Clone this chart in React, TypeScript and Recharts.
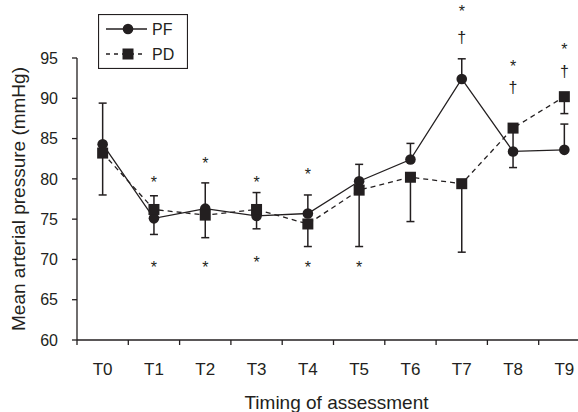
import React from "react";
import { ComposedChart, Line, XAxis, YAxis, ErrorBar, ReferenceDot } from "recharts";

const INK = "#231f20";
const FONT = '"Liberation Sans", Arial, Helvetica, sans-serif';

const timings = ["T0", "T1", "T2", "T3", "T4", "T5", "T6", "T7", "T8", "T9"];
const pfMean = [84.3, 75.1, 76.3, 75.4, 75.7, 79.7, 82.4, 92.4, 83.4, 83.6];
const pdMean = [83.2, 76.2, 75.5, 76.2, 74.4, 78.6, 80.2, 79.4, 86.3, 90.2];
// [below, above] error lengths (mmHg)
const pfErr = [[0, 5.1], [2.0, 0], [0, 3.2], [1.6, 0], [0, 2.3], [0, 2.1], [0, 2.0], [0, 2.5], [0, 0], [0, 3.2]];
const pdErr = [[5.2, 0], [0, 1.7], [2.8, 0], [0, 2.1], [2.8, 0], [7.0, 0], [5.5, 0], [8.5, 0], [4.9, 0], [2.1, 0]];
// significance marks, value = where the glyph sits
const starAbove = [null, 80.0, 82.3, 80.0, 81.0, null, null, 101.2, 94.4, 96.5];
const starBelow = [null, 69.4, 69.4, 70.0, 69.4, 69.4, null, null, null, null];
const daggers = [null, null, null, null, null, null, null, 97.3, 91.1, 93.1];
const yTicks = [60, 65, 70, 75, 80, 85, 90, 95];

const rows = timings.map((t, i) => ({
  t,
  pf: pfMean[i],
  pd: pdMean[i],
  pfErr: pfErr[i],
  pdErr: pdErr[i],
}));

const PLOT_LEFT = 77;
const PLOT_RIGHT = 590;
const HALF_BAND = (PLOT_RIGHT - PLOT_LEFT) / timings.length / 2;

const circleDot = (p: any) => (
  <circle key={`c${p.index}`} cx={p.cx} cy={p.cy} r={5.3} fill={INK} />
);
const squareDot = (p: any) => (
  <rect key={`s${p.index}`} x={p.cx - 5.5} y={p.cy - 5.5} width={11} height={11} fill={INK} />
);

function TimingTick({ x, y, payload }: any) {
  return (
    <g>
      <line x1={x - HALF_BAND} x2={x - HALF_BAND} y1={y - 5} y2={y} stroke={INK} strokeWidth={1.3} />
      <text x={x} y={y + 30} textAnchor="middle" fontSize={17} fill={INK} fontFamily={FONT}>
        {payload.value}
      </text>
    </g>
  );
}

const xTitle = ({ viewBox }: any) => (
  <text
    x={viewBox.x + viewBox.width / 2 + 3}
    y={viewBox.y + 69}
    textAnchor="middle"
    fontSize={19}
    fill={INK}
    fontFamily={FONT}
  >
    Timing of assessment
  </text>
);

const yTitle = ({ viewBox }: any) => {
  const cx = 25;
  const cy = viewBox.y + viewBox.height / 2;
  return (
    <text
      x={cx}
      y={cy}
      transform={`rotate(-90 ${cx} ${cy})`}
      textAnchor="middle"
      fontSize={19}
      fill={INK}
      fontFamily={FONT}
    >
      Mean arterial pressure (mmHg)
    </text>
  );
};

const glyph = (ch: string, dy: number) => (p: any) => (
  <text x={p.cx} y={p.cy + dy} textAnchor="middle" fontSize={16} fill={INK} fontFamily={FONT}>
    {ch}
  </text>
);

function marks(values: (number | null)[], ch: string, dy: number, prefix: string) {
  return values.map((v, i) =>
    v == null ? null : (
      <ReferenceDot
        key={`${prefix}${i}`}
        x={timings[i]}
        y={v}
        ifOverflow="visible"
        shape={glyph(ch, dy)}
      />
    )
  );
}

function LegendBox() {
  return (
    <svg width={90} height={55} style={{ position: "absolute", left: 98, top: 14 }}>
      <rect x={0.5} y={0.5} width={89} height={54} fill="white" stroke={INK} strokeWidth={1.2} />
      <line x1={8} x2={49} y1={15} y2={15} stroke={INK} strokeWidth={1.3} />
      <circle cx={30} cy={15} r={5.3} fill={INK} />
      <text x={54} y={21} fontSize={16} fill={INK} fontFamily={FONT}>PF</text>
      <line x1={8} x2={46} y1={40} y2={40} stroke={INK} strokeWidth={1.3} strokeDasharray="4 4" />
      <rect x={24.5} y={34.5} width={11} height={11} fill={INK} />
      <text x={54} y={46} fontSize={16} fill={INK} fontFamily={FONT}>PD</text>
    </svg>
  );
}

export default function App() {
  return (
    <div
      style={{
        position: "fixed",
        left: 0,
        top: 0,
        width: 578,
        height: 412,
        overflow: "hidden",
        background: "white",
        fontFamily: FONT,
      }}
    >
      <ComposedChart
        width={600}
        height={412}
        data={rows}
        margin={{ top: 58, right: 10, bottom: 0, left: 0 }}
      >
        <XAxis
          dataKey="t"
          scale="band"
          interval={0}
          tickLine={false}
          tickSize={5}
          tickMargin={0}
          height={72}
          axisLine={{ stroke: INK, strokeWidth: 1.3 }}
          tick={<TimingTick />}
          label={{ content: xTitle }}
        />
        <YAxis
          type="number"
          domain={[60, 95]}
          ticks={yTicks}
          width={77}
          tickSize={5}
          tickMargin={14}
          axisLine={{ stroke: INK, strokeWidth: 1.3 }}
          tickLine={{ stroke: INK, strokeWidth: 1.3 }}
          tick={{ fontSize: 16, fill: INK, fontFamily: FONT }}
          label={{ content: yTitle }}
        />
        <Line
          dataKey="pf"
          stroke={INK}
          strokeWidth={1.3}
          dot={circleDot}
          activeDot={false}
          isAnimationActive={false}
        >
          <ErrorBar dataKey="pfErr" width={4} stroke={INK} strokeWidth={1.5} isAnimationActive={false} />
        </Line>
        <Line
          dataKey="pd"
          stroke={INK}
          strokeWidth={1.3}
          strokeDasharray="5 4"
          dot={squareDot}
          activeDot={false}
          isAnimationActive={false}
        >
          <ErrorBar dataKey="pdErr" width={4} stroke={INK} strokeWidth={1.5} isAnimationActive={false} />
        </Line>
        {marks(starAbove, "*", 9, "sa")}
        {marks(starBelow, "*", 9, "sb")}
        {marks(daggers, "\u2020", 4, "dg")}
      </ComposedChart>
      <LegendBox />
    </div>
  );
}
